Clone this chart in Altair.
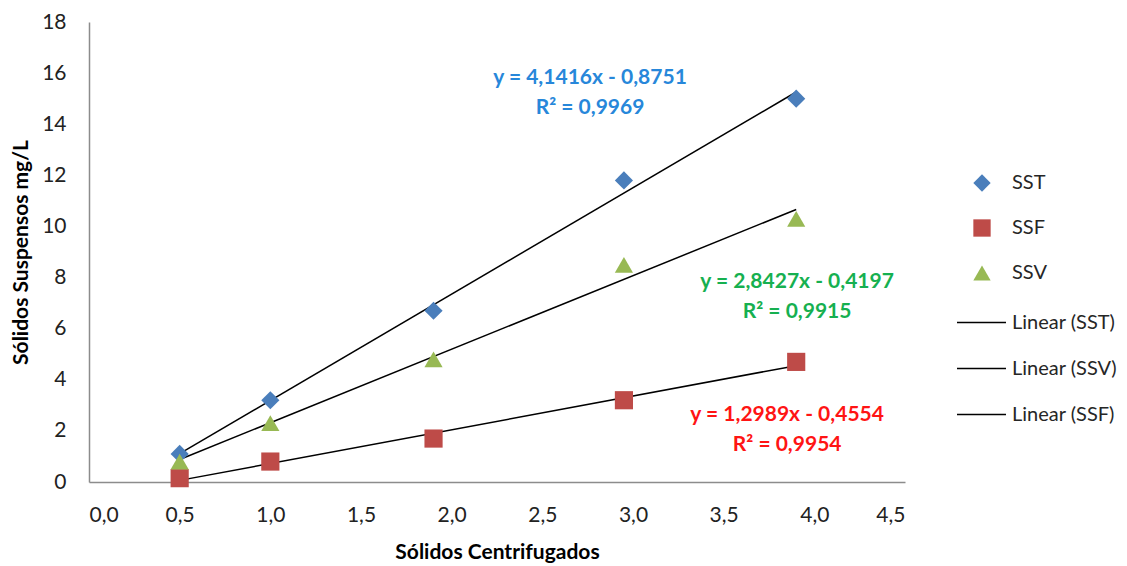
import altair as alt
import pandas as pd

# ---- data ----
x_vals = [0.5, 1.0, 1.9, 2.95, 3.9]
sst = [1.1, 3.2, 6.7, 11.8, 15.0]
ssf = [0.15, 0.8, 1.7, 3.2, 4.7]
ssv = [0.8, 2.3, 4.8, 8.5, 10.3]
series_names = ["SST", "SSF", "SSV"]
trend_names = ["Linear (SST)", "Linear (SSV)", "Linear (SSF)"]

eq_text = ["y = 4,1416x - 0,8751", "R\u00b2 = 0,9969",
           "y = 2,8427x - 0,4197", "R\u00b2 = 0,9915",
           "y = 1,2989x - 0,4554", "R\u00b2 = 0,9954"]
eq_series = ["SST", "SST", "SSV", "SSV", "SSF", "SSF"]
eq_x = [2.763, 2.763, 3.905, 3.905, 3.85, 3.85]
eq_y = [15.8, 14.63, 7.84, 6.66, 2.62, 1.45]

# ---- tables ----
rows = []
for name, vals in zip(series_names, [sst, ssf, ssv]):
    for xv, yv in zip(x_vals, vals):
        rows.append({"x": xv, "y": yv, "series": name})
df = pd.DataFrame(rows)
ann = pd.DataFrame({"text": eq_text, "series": eq_series, "x": eq_x, "y": eq_y})

FONT = "Lato"
marker_colors = ["#4A7EBB", "#BE4B48", "#98B954"]
text_colors = {"SST": "#2787DA", "SSV": "#16B050", "SSF": "#FF1414"}

xscale = alt.Scale(domain=[0, 4.5], nice=False)
yscale = alt.Scale(domain=[0, 18], nice=False)
xenc = alt.X("x:Q", scale=xscale, title="Sólidos Centrifugados",
             axis=alt.Axis(values=[0, 0.5, 1, 1.5, 2, 2.5, 3, 3.5, 4, 4.5],
                           labelExpr="replace(format(datum.value, '.1f'), '.', ',')",
                           labelPadding=22, titlePadding=16))
yenc = alt.Y("y:Q", scale=yscale, title="Sólidos Suspensos mg/L",
             axis=alt.Axis(values=list(range(0, 19, 2)), labelPadding=23,
                           titlePadding=10))

leg1 = alt.Legend(title=None, orient="none", legendX=883, legendY=151,
                  symbolSize=300, rowPadding=25, labelOffset=20,
                  labelFontSize=20, labelFont=FONT, labelColor="#262626")

points = alt.Chart(df).mark_point(filled=True, opacity=1, size=330).encode(
    x=xenc,
    y=yenc,
    color=alt.Color("series:N", scale=alt.Scale(domain=series_names, range=marker_colors),
                    legend=leg1),
    shape=alt.Shape("series:N", scale=alt.Scale(domain=series_names,
                                                range=["diamond", "square", "triangle-up"]),
                    legend=leg1),
)

lines = alt.Chart(df).transform_regression(
    "x", "y", groupby=["series"]
).transform_calculate(
    trend="'Linear (' + datum.series + ')'"
).mark_line(strokeWidth=1.5).encode(
    x="x:Q",
    y="y:Q",
    stroke=alt.Stroke("trend:N", scale=alt.Scale(domain=trend_names, range=["#000000"] * 3),
                      legend=alt.Legend(title=None, orient="none", legendX=867, legendY=275,
                                        symbolType="stroke", symbolSize=2400,
                                        symbolStrokeWidth=1.5, rowPadding=10, labelOffset=5,
                                        labelFontSize=20, labelFont=FONT, labelColor="#262626")),
)

text_layers = []
for name, col in text_colors.items():
    text_layers.append(
        alt.Chart(ann[ann["series"] == name]).mark_text(
            font=FONT, fontSize=21, fontWeight="bold", align="center",
            baseline="middle", color=col
        ).encode(x="x:Q", y="y:Q", text="text:N")
    )

chart = alt.layer(lines, points, *text_layers).properties(
    width=816, height=460,
    padding={"left": 81, "top": 14, "right": 214, "bottom": 84},
    autosize=alt.AutoSizeParams(type="none"),
).configure_view(
    stroke=None
).configure_axis(
    grid=False, ticks=False, domainColor="#8C8C8C", domainWidth=1.5,
    labelFont=FONT, labelFontSize=21, labelColor="#222",
    titleFont=FONT, titleFontSize=21, titleFontWeight="bold", titleColor="#000",
)

chart.save("out.html", embed_options={"renderer": "svg", "actions": False})
